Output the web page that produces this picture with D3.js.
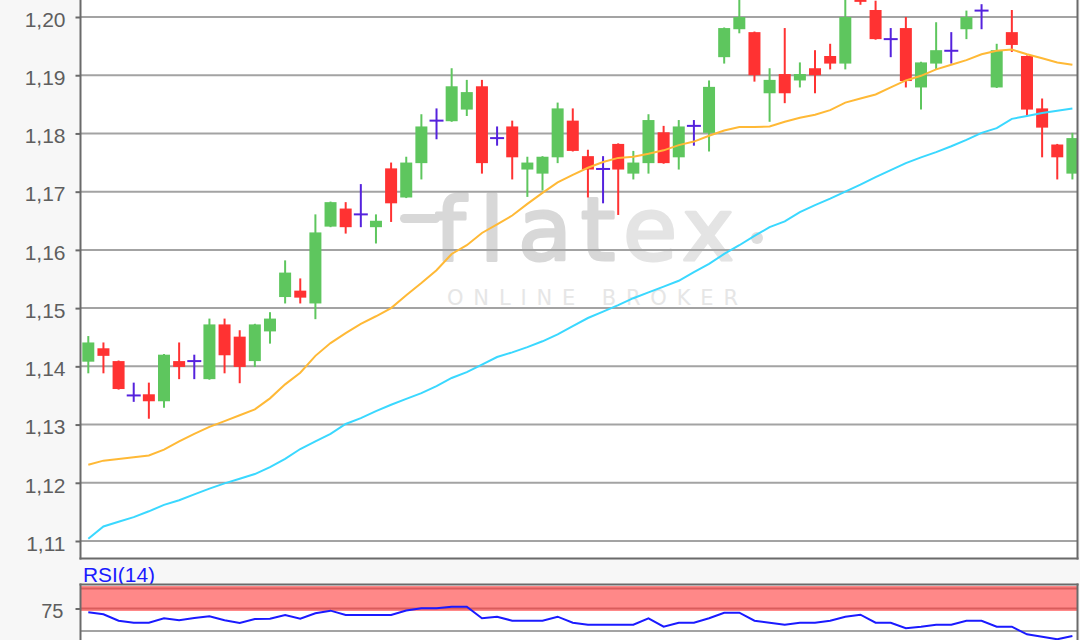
<!DOCTYPE html>
<html><head><meta charset="utf-8">
<script src="https://cdn.jsdelivr.net/npm/d3@7"></script>
<style>html,body{margin:0;padding:0;background:#f7f7f7;overflow:hidden}svg{display:block}</style>
</head><body>
<svg id="chart" width="1080" height="640"></svg>
<script>
// ---- data ----
const opens  = [1.1408,1.1431,1.1409,1.1350,1.1352,1.1340,1.1409,1.1409,1.1378,1.1472,1.1451,1.1409,1.1460,1.1519,1.1530,1.1508,1.1640,1.1671,1.1661,1.1639,1.1740,1.1690,1.1749,1.1822,1.1821,1.1841,1.1881,1.1792,1.1812,1.1738,1.1731,1.1759,1.1822,1.1761,1.1739,1.1782,1.1731,1.1749,1.1802,1.1759,1.1813,1.1801,1.1931,1.1979,1.1974,1.1869,1.1902,1.1891,1.1912,1.1933,1.1920,1.2040,1.2012,1.1962,1.1981,1.1879,1.1920,1.1942,1.1979,1.2011,1.1879,1.1974,1.1933,1.1843,1.1781,1.1731];
const highs  = [1.1452,1.1441,1.1410,1.1372,1.1372,1.1421,1.1441,1.1420,1.1482,1.1482,1.1462,1.1473,1.1493,1.1582,1.1551,1.1661,1.1683,1.1682,1.1713,1.1661,1.1750,1.1760,1.1833,1.1843,1.1912,1.1892,1.1892,1.1812,1.1822,1.1760,1.1761,1.1853,1.1843,1.1772,1.1761,1.1783,1.1770,1.1833,1.1813,1.1823,1.1823,1.1891,1.1982,1.2035,1.1975,1.1912,1.1981,1.1922,1.1943,1.1954,1.2030,1.2050,1.2028,1.1981,1.2000,1.1923,1.1991,1.1974,1.2011,1.2022,1.1954,1.2012,1.1934,1.1860,1.1782,1.1801];
const lows   = [1.1388,1.1388,1.1360,1.1339,1.1310,1.1329,1.1378,1.1378,1.1377,1.1388,1.1371,1.1399,1.1439,1.1508,1.1508,1.1481,1.1639,1.1628,1.1639,1.1611,1.1648,1.1689,1.1721,1.1790,1.1820,1.1830,1.1731,1.1779,1.1721,1.1691,1.1702,1.1749,1.1769,1.1690,1.1680,1.1660,1.1721,1.1731,1.1748,1.1738,1.1779,1.1769,1.1920,1.1972,1.1889,1.1820,1.1852,1.1879,1.1869,1.1910,1.1910,1.2021,1.1961,1.1931,1.1879,1.1841,1.1910,1.1920,1.1962,1.1979,1.1878,1.1940,1.1830,1.1759,1.1721,1.1721];
const closes = [1.1441,1.1418,1.1361,1.1350,1.1340,1.1420,1.1399,1.1409,1.1472,1.1419,1.1399,1.1472,1.1482,1.1561,1.1518,1.1630,1.1682,1.1639,1.1661,1.1650,1.1680,1.1750,1.1812,1.1822,1.1881,1.1871,1.1749,1.1792,1.1759,1.1750,1.1760,1.1843,1.1770,1.1738,1.1739,1.1738,1.1750,1.1823,1.1749,1.1812,1.1813,1.1880,1.1981,1.2000,1.1900,1.1892,1.1869,1.1902,1.1900,1.1920,1.2000,1.2026,1.1962,1.1962,1.1890,1.1922,1.1943,1.1942,1.2000,1.2011,1.1943,1.1952,1.1841,1.1810,1.1759,1.1792];
const smaFast = [1.1231,1.1238,1.1241,1.1244,1.1247,1.1257,1.1271,1.1284,1.1296,1.1306,1.1316,1.1326,1.1345,1.1369,1.1389,1.1418,1.1440,1.1457,1.1473,1.1486,1.1500,1.1522,1.1543,1.1565,1.1593,1.1608,1.1629,1.1644,1.1659,1.1679,1.1698,1.1716,1.1729,1.1741,1.1751,1.1758,1.1760,1.1765,1.1771,1.1780,1.1786,1.1796,1.1805,1.1811,1.1811,1.1812,1.1820,1.1827,1.1832,1.1840,1.1853,1.1860,1.1867,1.1879,1.1891,1.1899,1.1910,1.1918,1.1926,1.1936,1.1942,1.1944,1.1936,1.1929,1.1922,1.1918];
const smaSlow = [1.1104,1.1125,1.1133,1.1141,1.1151,1.1162,1.1170,1.1180,1.1190,1.1199,1.1207,1.1215,1.1227,1.1241,1.1258,1.1271,1.1284,1.1301,1.1311,1.1323,1.1334,1.1344,1.1354,1.1366,1.1380,1.1390,1.1403,1.1416,1.1424,1.1433,1.1443,1.1455,1.1469,1.1483,1.1494,1.1505,1.1517,1.1527,1.1537,1.1547,1.1562,1.1576,1.1593,1.1608,1.1624,1.1639,1.1649,1.1665,1.1677,1.1688,1.1700,1.1712,1.1725,1.1737,1.1749,1.1759,1.1768,1.1778,1.1789,1.1801,1.1809,1.1825,1.1830,1.1835,1.1839,1.1843];
const rsi14 = [70.8,68.6,61.4,59.2,59.2,64.1,61.9,64.4,66.3,61.9,58.9,63.3,63.7,67.8,63.7,69.7,72.6,67.8,67.8,67.8,67.8,72.8,75.2,75.2,77.0,77.0,64.1,65.9,61.4,61.4,61.4,65.9,59.2,57.0,57.0,57.0,57.0,64.1,54.8,59.2,59.2,64.1,70.3,70.3,61.4,59.2,57.0,59.2,59.2,61.4,65.9,68.1,59.2,59.2,53.0,54.8,57.0,57.0,61.4,61.4,54.8,54.8,46.3,43.7,40.8,44.4];
const priceTicks = [1.11,1.12,1.13,1.14,1.15,1.16,1.17,1.18,1.19,1.20];
const rsiTicks = [75];
const rsiGridLevels = [50];
const rsiBand = [75, 100];

// ---- layout ----
const W = 1080, H = 640;
const L = 81, R = 1077, priceBottom = 558, rsiTop = 585;
const svg = d3.select("#chart");
const idx = closes.map((_, i) => i);

const x = d3.scalePoint().domain(idx).range([88.3, 1072.4]);
const y = d3.scaleLinear().domain([1.11, 1.20]).range([541, 17]);
const ry = d3.scaleLinear().domain([50, 100]).range([631, 586]);
const fmt = v => d3.format(".2f")(v).replace(".", ",");

svg.append("rect").attr("width", W).attr("height", H).attr("fill", "#f7f7f7");

// clip paths
const defs = svg.append("defs");
defs.append("clipPath").attr("id", "cp").append("rect").attr("x", L).attr("y", -20).attr("width", R - L).attr("height", priceBottom + 20);
defs.append("clipPath").attr("id", "cr").append("rect").attr("x", L).attr("y", rsiTop).attr("width", R - L).attr("height", 80);

// ---- price panel ----
svg.append("rect").attr("x", L).attr("y", -10).attr("width", R - L).attr("height", priceBottom + 10).attr("fill", "#fff");
const pp = svg.append("g").attr("clip-path", "url(#cp)");

// watermark
const wm = pp.append("g").attr("font-family", "'DejaVu Sans', sans-serif");
const logo = wm.append("text").attr("y", 260).attr("font-size", 88).attr("text-anchor", "middle")
  .attr("stroke-width", 3).attr("stroke-linejoin", "round");
[["f",450,"#d8d8d8"],["l",492,"#d8d8d8"],["a",545,"#d8d8d8"],["t",598,"#d8d8d8"],["e",650,"#e4e4e4"],["x",708,"#e4e4e4"]]
  .forEach(([ch, px, c]) => logo.append("tspan").attr("x", px).attr("fill", c).attr("stroke", c).text(ch));
wm.append("rect").attr("x", 400).attr("y", 214).attr("width", 40).attr("height", 9).attr("rx", 4.5).attr("fill", "#d8d8d8");
wm.append("circle").attr("cx", 757).attr("cy", 238).attr("r", 6).attr("fill", "#dedede");
wm.append("text").attr("x", 447).attr("y", 305).attr("font-size", 21).attr("fill", "#e6e6e6")
  .attr("textLength", 291).attr("lengthAdjust", "spacing").text("ONLINE BROKER");

// grid
pp.append("g").selectAll("line").data(priceTicks).join("line")
  .attr("x1", L).attr("x2", R).attr("y1", d => y(d)).attr("y2", d => y(d))
  .attr("stroke", "#a3a3a3").attr("stroke-width", 2);

// candles
const col = i => closes[i] > opens[i] ? "#5ec65e" : closes[i] < opens[i] ? "#ff3232" : "#5522dd";
const cg = pp.append("g");
cg.selectAll("line.wick").data(idx).join("line").attr("class", "wick")
  .attr("x1", i => x(i)).attr("x2", i => x(i))
  .attr("y1", i => y(highs[i])).attr("y2", i => y(lows[i]))
  .attr("stroke", col).attr("stroke-width", 2);
cg.selectAll("rect.body").data(idx.filter(i => closes[i] !== opens[i])).join("rect").attr("class", "body")
  .attr("x", i => x(i) - 6).attr("width", 12)
  .attr("y", i => y(Math.max(opens[i], closes[i])))
  .attr("height", i => Math.max(2, Math.abs(y(opens[i]) - y(closes[i]))))
  .attr("fill", col);
cg.selectAll("line.doji").data(idx.filter(i => closes[i] === opens[i])).join("line").attr("class", "doji")
  .attr("x1", i => x(i) - 7).attr("x2", i => x(i) + 7)
  .attr("y1", i => y(closes[i])).attr("y2", i => y(closes[i]))
  .attr("stroke", col).attr("stroke-width", 2);

// moving averages
const line = arr => d3.line().x((d, i) => x(i)).y(d => y(d))(arr);
pp.append("path").attr("d", line(smaSlow)).attr("fill", "none").attr("stroke", "#3ad8ff").attr("stroke-width", 2);
pp.append("path").attr("d", line(smaFast)).attr("fill", "none").attr("stroke", "#ffb936").attr("stroke-width", 2);

// price frame + axis
svg.append("line").attr("x1", L - 0.5).attr("x2", L - 0.5).attr("y1", -5).attr("y2", priceBottom + 1.5).attr("stroke", "#6a6a6a").attr("stroke-width", 2);
svg.append("line").attr("x1", R + 0.5).attr("x2", R + 0.5).attr("y1", -5).attr("y2", priceBottom + 1.5).attr("stroke", "#6a6a6a").attr("stroke-width", 2);
svg.append("line").attr("x1", L - 1.5).attr("x2", R + 1.5).attr("y1", priceBottom + 0.5).attr("y2", priceBottom + 0.5).attr("stroke", "#6a6a6a").attr("stroke-width", 2);

const yAxis = d3.axisLeft(y).tickValues(priceTicks).tickFormat(fmt).tickSize(5).tickPadding(10);
const ya = svg.append("g").attr("transform", `translate(${L - 0.5},0)`).call(yAxis);
ya.select(".domain").remove();
ya.selectAll(".tick line").attr("stroke", "#6a6a6a").attr("stroke-width", 2);
ya.selectAll(".tick text").attr("fill", "#5e5e5e").attr("font-size", 21)
  .attr("font-family", "'Liberation Sans', Arial, sans-serif").attr("dy", "0.44em");

// ---- RSI panel ----
svg.append("text").attr("x", 83).attr("y", 582).attr("fill", "#1a1aff").attr("font-size", 19.5)
  .attr("font-family", "'Liberation Sans', Arial, sans-serif").attr("textLength", 72).attr("lengthAdjust", "spacingAndGlyphs").text("RSI(14)");
svg.append("rect").attr("x", L).attr("y", rsiTop).attr("width", R - L).attr("height", H - rsiTop + 5).attr("fill", "#fff");
const rp = svg.append("g").attr("clip-path", "url(#cr)");
rp.append("rect").attr("x", L).attr("width", R - L).attr("y", ry(rsiBand[1])).attr("height", ry(rsiBand[0]) - ry(rsiBand[1]) + 2.5).attr("fill", "#ff8888");
rp.selectAll("line.bandedge").data([ry(rsiBand[1]) + 2.5, ry(rsiBand[0])]).join("line").attr("class", "bandedge")
  .attr("x1", L).attr("x2", R).attr("y1", d => d).attr("y2", d => d).attr("stroke", "#d95c5c").attr("stroke-width", 2);
rp.selectAll("line.rg").data(rsiGridLevels).join("line").attr("class", "rg")
  .attr("x1", L).attr("x2", R).attr("y1", d => ry(d)).attr("y2", d => ry(d)).attr("stroke", "#a3a3a3").attr("stroke-width", 2);
rp.append("path").attr("d", d3.line().x((d, i) => x(i)).y(d => ry(d))(rsi14)).attr("fill", "none").attr("stroke", "#1a1aff").attr("stroke-width", 2);

svg.append("line").attr("x1", L - 1.5).attr("x2", R + 1.5).attr("y1", rsiTop - 0.5).attr("y2", rsiTop - 0.5).attr("stroke", "#6a6a6a").attr("stroke-width", 2);
svg.append("line").attr("x1", L - 0.5).attr("x2", L - 0.5).attr("y1", rsiTop - 1.5).attr("y2", H + 2).attr("stroke", "#6a6a6a").attr("stroke-width", 2);
svg.append("line").attr("x1", R + 0.5).attr("x2", R + 0.5).attr("y1", rsiTop - 1.5).attr("y2", H + 2).attr("stroke", "#6a6a6a").attr("stroke-width", 2);

const rAxis = d3.axisLeft(ry).tickValues(rsiTicks).tickFormat(d3.format("d")).tickSize(5).tickPadding(12);
const ra = svg.append("g").attr("transform", `translate(${L - 0.5},0)`).call(rAxis);
ra.select(".domain").remove();
ra.selectAll(".tick line").attr("stroke", "#6a6a6a").attr("stroke-width", 2);
ra.selectAll(".tick text").attr("fill", "#5e5e5e").attr("font-size", 20)
  .attr("font-family", "'Liberation Sans', Arial, sans-serif").attr("dy", "0.45em");
</script>
</body></html>
